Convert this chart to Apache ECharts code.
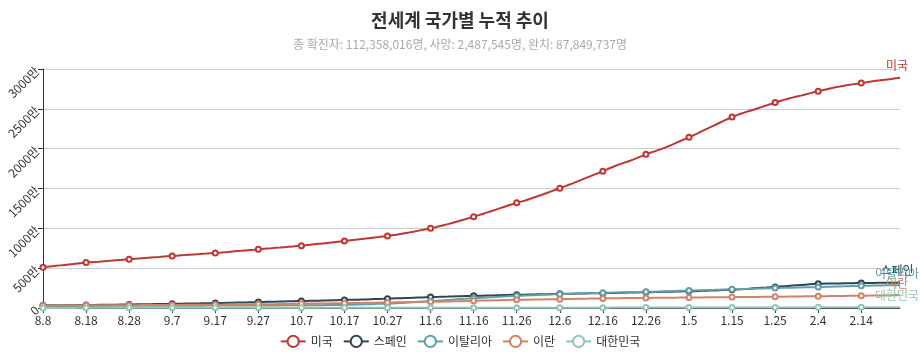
<!DOCTYPE html>
<html><head><meta charset="utf-8">
<script src="https://cdn.jsdelivr.net/npm/echarts@6/dist/echarts.min.js"></script>
<style>html,body{margin:0;padding:0;background:#fff}#c{width:920px;height:357px}</style>
</head><body><div id="c"></div>
<script>
const titleText = '전세계 국가별 누적 추이';
const subText = '총 확진자: 112,358,016명, 사망: 2,487,545명, 완치: 87,849,737명';
const seriesNames = ['미국', '스페인', '이탈리아', '이란', '대한민국'];
const yTicks = [0, 500, 1000, 1500, 2000, 2500, 3000];
const dates = [
'8.8','8.9','8.10','8.11','8.12','8.13','8.14','8.15','8.16','8.17','8.18','8.19','8.20','8.21','8.22','8.23','8.24','8.25','8.26','8.27','8.28','8.29','8.30','8.31',
'9.1','9.2','9.3','9.4','9.5','9.6','9.7','9.8','9.9','9.10','9.11','9.12','9.13','9.14','9.15','9.16','9.17','9.18','9.19','9.20','9.21','9.22','9.23','9.24','9.25','9.26','9.27','9.28','9.29','9.30',
'10.1','10.2','10.3','10.4','10.5','10.6','10.7','10.8','10.9','10.10','10.11','10.12','10.13','10.14','10.15','10.16','10.17','10.18','10.19','10.20','10.21','10.22','10.23','10.24','10.25','10.26','10.27','10.28','10.29','10.30','10.31',
'11.1','11.2','11.3','11.4','11.5','11.6','11.7','11.8','11.9','11.10','11.11','11.12','11.13','11.14','11.15','11.16','11.17','11.18','11.19','11.20','11.21','11.22','11.23','11.24','11.25','11.26','11.27','11.28','11.29','11.30',
'12.1','12.2','12.3','12.4','12.5','12.6','12.7','12.8','12.9','12.10','12.11','12.12','12.13','12.14','12.15','12.16','12.17','12.18','12.19','12.20','12.21','12.22','12.23','12.24','12.25','12.26','12.27','12.28','12.29','12.30','12.31',
'1.1','1.2','1.3','1.4','1.5','1.6','1.7','1.8','1.9','1.10','1.11','1.12','1.13','1.14','1.15','1.16','1.17','1.18','1.19','1.20','1.21','1.22','1.23','1.24','1.25','1.26','1.27','1.28','1.29','1.30','1.31',
'2.1','2.2','2.3','2.4','2.5','2.6','2.7','2.8','2.9','2.10','2.11','2.12','2.13','2.14','2.15','2.16','2.17','2.18','2.19','2.20','2.21','2.22','2.23'
];
// values in 만 (10,000) units
const usa = [
512,518,523,529,535,541,547,552,558,564, 570,574,578,582,587,591,595,600,604,608,
612,616,620,625,629,633,637,641,646,650, 654,657,661,664,668,672,676,680,683,687,
691,695,700,704,709,714,718,723,728,732, 737,741,746,750,755,759,764,769,773,778,
782,788,793,799,805,811,817,823,829,835, 841,847,853,859,866,872,879,885,891,898,
904,912,920,929,938,947,957,968,978,989, 1000,1012,1025,1039,1053,1067,1082,1098,1113,1129,
1146,1163,1180,1197,1214,1232,1250,1268,1286,1303, 1321,1335,1350,1368,1387,1406,1425,1444,1464,1484,
1504,1524,1544,1565,1587,1609,1630,1652,1674,1695, 1717,1741,1763,1785,1806,1825,1842,1863,1885,1907,
1929,1948,1966,1985,2004,2025,2048,2072,2096,2119, 2142,2168,2193,2220,2245,2270,2296,2322,2348,2372,
2396,2418,2438,2456,2473,2489,2507,2525,2543,2561, 2579,2596,2612,2627,2641,2654,2666,2680,2694,2708,
2721,2734,2747,2759,2770,2780,2789,2798,2807,2816, 2825,2832,2840,2848,2855,2861,2867,2874,2883,2891
];
const spain = [
35,35,35,36,36,36,37,37,37,38, 38,39,39,40,40,41,42,42,43,43,
44,45,46,46,47,48,49,50,50,51, 52,53,54,55,56,57,58,59,60,61,
62,63,64,66,67,68,69,70,72,73, 74,75,77,78,80,81,82,84,85,87,
88,89,90,91,92,94,95,96,97,99, 100,102,103,105,107,108,110,112,114,115,
117,119,121,123,125,127,129,131,133,135, 137,139,140,142,143,145,147,148,150,151,
153,154,155,157,158,159,161,162,163,165, 166,167,168,170,171,172,173,174,176,177,
178,179,180,180,181,182,183,184,184,185, 186,187,188,189,191,192,193,194,195,197,
198,199,200,201,203,204,205,206,207,209, 210,211,213,215,217,219,221,223,225,228,
230,233,236,240,243,247,251,255,258,262, 265,269,273,277,281,285,289,293,297,300,
303,305,306,307,308,309,310,311,312,313, 314,314,315,315,316,316,317,317,318,319
];
const italy = [
25,25,25,25,25,25,26,26,26,26, 26,26,26,26,26,26,27,27,27,27,
27,27,27,27,27,28,28,28,28,28, 28,28,29,29,29,29,29,29,30,30,
30,30,30,30,30,30,31,31,31,31, 31,31,32,32,32,32,33,33,33,34,
34,34,35,35,36,36,37,38,38,39, 40,41,42,43,45,46,48,50,52,53,
55,58,61,64,67,70,73,77,80,84, 88,91,95,98,102,105,109,112,115,119,
122,125,128,132,135,138,141,144,147,150, 152,155,157,159,161,164,166,168,170,172,
174,176,177,179,181,182,184,185,187,188, 190,191,193,194,195,197,198,199,200,202,
203,204,205,207,208,210,211,213,215,217, 219,220,222,223,225,227,228,230,232,233,
235,236,238,239,241,242,244,245,247,248, 250,251,253,254,255,256,258,259,260,262,
263,264,266,267,269,270,272,273,275,276, 278,279,280,281,282,283,284,285,286,288
];
const iran = [
32,32,32,32,33,33,33,33,33,34, 34,34,34,34,35,35,35,35,35,36,
36,36,36,37,37,37,38,38,38,38, 39,39,39,40,40,40,41,41,41,42,
42,42,43,43,44,44,44,45,45,46, 46,47,47,48,48,49,50,51,52,53,
54,55,55,56,57,58,58,59,60,60, 61,62,63,63,64,65,66,67,68,68,
69,70,71,72,73,74,75,76,77,77, 78,79,80,81,82,84,85,86,88,89,
90,91,93,94,95,97,98,99,100,102, 103,104,105,105,106,107,108,109,110,110,
111,112,113,114,115,116,117,118,118,119, 120,121,121,122,123,124,124,125,126,126,
127,127,128,128,129,129,130,130,131,131, 132,132,133,133,134,134,135,135,136,136,
137,137,138,138,139,139,139,140,140,141, 141,142,142,143,144,145,145,146,147,147,
148,149,149,150,151,151,152,153,153,154, 155,155,156,157,157,158,158,159,159,160
];
const korea = [
1.5,1.5,1.5,1.5,1.5,1.5,1.5,1.5,1.6,1.6, 1.6,1.6,1.6,1.7,1.7,1.7,1.8,1.8,1.8,1.9,
1.9,1.9,1.9,2.0,2.0,2.0,2.0,2.0,2.1,2.1, 2.1,2.1,2.1,2.2,2.2,2.2,2.2,2.2,2.3,2.3,
2.3,2.3,2.3,2.3,2.3,2.3,2.4,2.4,2.4,2.4, 2.4,2.4,2.4,2.4,2.4,2.4,2.4,2.4,2.4,2.4,
2.4,2.4,2.4,2.5,2.5,2.5,2.5,2.5,2.5,2.5, 2.5,2.5,2.5,2.5,2.6,2.6,2.6,2.6,2.6,2.6,
2.6,2.6,2.6,2.6,2.6,2.7,2.7,2.7,2.7,2.7, 2.7,2.7,2.8,2.8,2.8,2.8,2.8,2.9,2.9,2.9,
2.9,3.0,3.0,3.0,3.1,3.1,3.1,3.2,3.2,3.3, 3.3,3.3,3.4,3.4,3.5,3.5,3.5,3.6,3.6,3.7,
3.7,3.8,3.8,3.9,4.0,4.1,4.2,4.3,4.4,4.5, 4.6,4.7,4.8,4.9,5.0,5.1,5.2,5.3,5.5,5.6,
5.7,5.8,5.9,6.0,6.0,6.1,6.2,6.3,6.3,6.4, 6.5,6.5,6.6,6.7,6.7,6.8,6.8,6.9,7.0,7.0,
7.1,7.1,7.2,7.2,7.3,7.3,7.4,7.4,7.5,7.5, 7.6,7.6,7.6,7.7,7.7,7.7,7.8,7.8,7.8,7.9,
7.9,8.0,8.0,8.1,8.1,8.2,8.2,8.3,8.3,8.4, 8.4,8.4,8.5,8.5,8.6,8.6,8.7,8.7,8.8,8.8
];
const seriesData = [usa, spain, italy, iran, korea];
const colors = ['#c23531', '#2f4554', '#61a0a8', '#d48265', '#91c7ae'];

const FONT = '"Noto Sans CJK KR", "Noto Sans", sans-serif';
const chart = echarts.init(document.getElementById('c'));
chart.setOption({
  animation: false,
  color: colors,
  textStyle: { fontFamily: FONT },
  title: {
    text: titleText, subtext: subText, left: 'center', top: 6, itemGap: 9,
    textStyle: { fontSize: 18, fontWeight: 'bold', color: '#333', fontFamily: FONT },
    subtextStyle: { fontSize: 12, color: '#aaa', fontFamily: FONT }
  },
  legend: {
    bottom: 4, left: 'center', itemGap: 10,
    data: seriesNames,
    itemStyle: { borderWidth: 1 },
    textStyle: { color: '#333', fontSize: 12, fontFamily: FONT }
  },
  grid: { left: 43, right: 20, top: 69, bottom: 49 },
  xAxis: {
    type: 'category', data: dates, boundaryGap: false,
    axisLine: { lineStyle: { color: '#333' } },
    axisTick: { interval: 9, lineStyle: { color: '#333' } },
    axisLabel: { interval: 9, color: '#333', fontSize: 12, fontFamily: FONT, margin: 6 }
  },
  yAxis: {
    type: 'value', min: yTicks[0], max: yTicks[yTicks.length - 1], interval: yTicks[1] - yTicks[0],
    axisLine: { show: true, lineStyle: { color: '#333' } },
    axisTick: { show: true, lineStyle: { color: '#333' } },
    splitLine: { lineStyle: { color: '#ccc' } },
    axisLabel: {
      rotate: 45, color: '#333', fontSize: 12, fontFamily: FONT, margin: 6,
      formatter: v => v === 0 ? '0' : v + '만'
    }
  },
  series: seriesNames.map((name, i) => ({
    name, type: 'line', data: seriesData[i],
    symbol: 'emptyCircle', symbolSize: 5, showAllSymbol: 'auto',
    itemStyle: { borderWidth: 1 },
    lineStyle: { width: 2 },
    endLabel: {
      show: true, formatter: '{a}', color: colors[i], fontSize: 12, fontFamily: FONT,
      distance: 0, align: 'center', verticalAlign: 'bottom', padding: [0, 6, 6, 0]
    }
  }))
});
</script>
</body></html>
